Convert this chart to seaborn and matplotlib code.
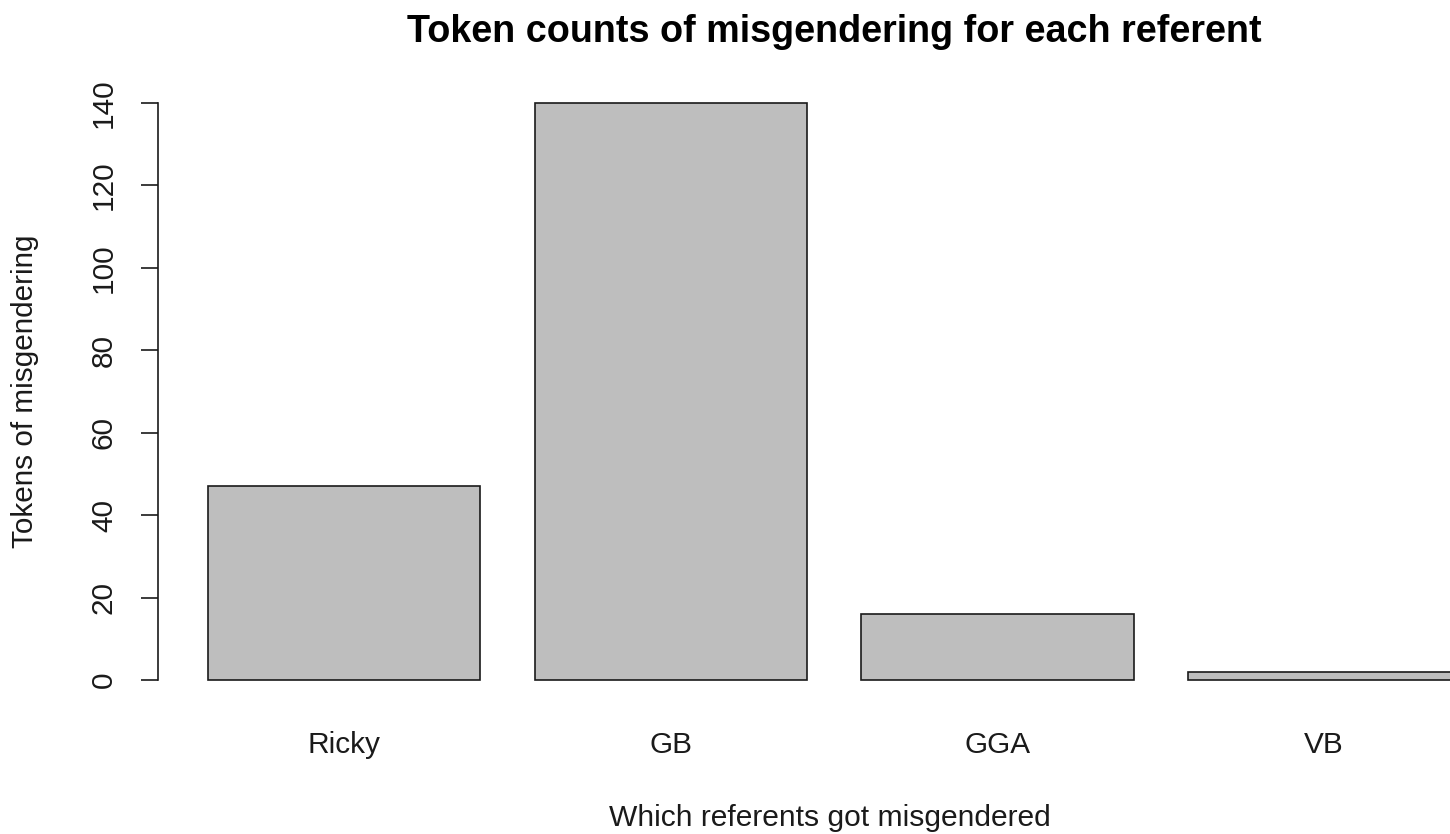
import matplotlib
matplotlib.use("Agg")
import matplotlib.pyplot as plt
import seaborn as sns
import pandas as pd

# Данные: кто сколько раз был мисгендерен
referents = ["Ricky", "GB", "GGA", "VB"]
token_counts = [47, 140, 16, 2]
y_ticks = [0, 20, 40, 60, 80, 100, 120, 140]

df = pd.DataFrame({"referent": referents, "tokens": token_counts})

sns.set_theme(style="white")
plt.rcParams['font.family'] = ['Liberation Sans', 'DejaVu Sans']

fig = plt.figure(figsize=(14.5, 8.34), dpi=100)
# область графика как в R barplot (правый край уходит за картинку)
ax = fig.add_axes([0.1088, 0.1570, 0.9329, 0.7472])

sns.barplot(data=df, x="referent", y="tokens", color="#BEBEBE", saturation=1,
            edgecolor="#1a1a1a", linewidth=1.2, width=1 / 1.2, ax=ax)

ax.set_xlim(-0.5704, 3.57)
ax.set_ylim(-5.6, 145.6)
ax.set_yticks(y_ticks)
ax.set_yticklabels([str(t) for t in y_ticks])

for side in ["top", "right", "bottom"]:
    ax.spines[side].set_visible(False)
ax.spines["left"].set_bounds(0, 140)
ax.spines["left"].set_color("#1a1a1a")
ax.spines["left"].set_linewidth(1.2)

ax.tick_params(axis="x", length=0, pad=20.3, labelsize=21.4, colors="#1a1a1a")
ax.tick_params(axis="y", left=True, length=12.2, width=1.2, direction="out", pad=16.5,
               labelsize=21.4, labelrotation=90, colors="#1a1a1a")
for lbl in ax.get_yticklabels():
    lbl.set_verticalalignment("center")

ax.set_title("Token counts of misgendering for each referent", fontsize=27.2,
             fontweight="bold", pad=27.4, color="black")
ax.set_xlabel("Which referents got misgendered", fontsize=21.6, color="#1a1a1a")
ax.set_ylabel("Tokens of misgendering", fontsize=21.4, color="#1a1a1a")
ax.xaxis.set_label_coords(0.497, -0.1615)
ax.yaxis.set_label_coords(-0.0880, 0.5)

plt.savefig("out.png", dpi=100)
plt.close()
